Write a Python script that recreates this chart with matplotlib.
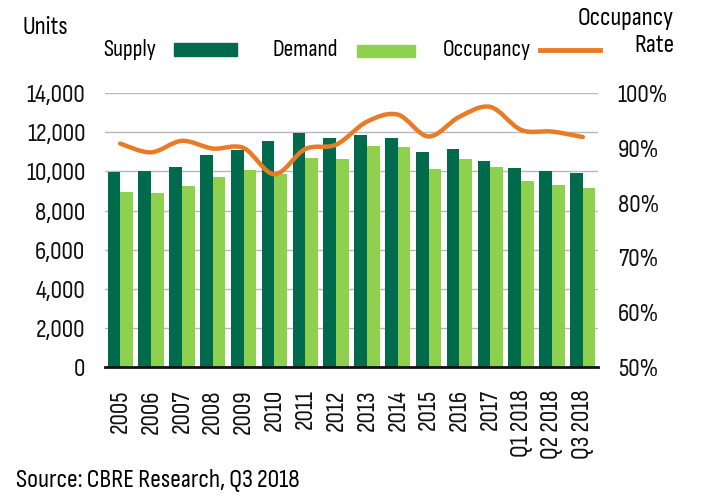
import matplotlib
matplotlib.use("Agg")
import matplotlib.pyplot as plt
from matplotlib.path import Path
from matplotlib.patches import PathPatch, Rectangle
from matplotlib.lines import Line2D
from matplotlib.ticker import FuncFormatter
import numpy as np

plt.rcParams['font.family'] = ['Sofia Sans Condensed', 'DejaVu Sans']

periods = ['2005', '2006', '2007', '2008', '2009', '2010', '2011', '2012',
           '2013', '2014', '2015', '2016', '2017', 'Q1 2018', 'Q2 2018', 'Q3 2018']
supply = [9950, 10040, 10230, 10860, 11080, 11560, 11950, 11700,
          11870, 11730, 11000, 11170, 10520, 10200, 10040, 9940]
demand = [8970, 8920, 9280, 9720, 10090, 9860, 10710, 10640,
          11290, 11250, 10110, 10660, 10210, 9500, 9290, 9140]
occupancy = [90.8, 89.2, 91.3, 89.9, 90.0, 85.2, 89.8, 90.6,
             94.8, 96.1, 92.1, 95.7, 97.5, 93.3, 93.0, 92.0]

c_supply = '#006a4d'
c_demand = '#8fd14f'
c_occ = '#ea7b26'
fs = 18.5
fs_leg = 17

W, H = 703, 504
fig = plt.figure(figsize=(W / 100, H / 100), dpi=100)
ax = fig.add_axes([0.149, 0.272, 0.702, 0.543])
ax2 = ax.twinx()

x = np.arange(len(periods))
w = 0.41
ax.bar(x - w / 2, supply, w, color=c_supply, zorder=2)
ax.bar(x + w / 2, demand, w, color=c_demand, zorder=2)

ax.set_xlim(-0.5, len(periods) - 0.5)
ax.set_ylim(0, 14000)
ax.set_yticks(range(0, 14001, 2000))
ax.yaxis.set_major_formatter(FuncFormatter(lambda v, p: f'{int(v):,}'))
ax.grid(axis='y', color='#b8b8b8', linewidth=1, zorder=0)
ax.set_axisbelow(True)
ax.set_xticks(x)
ax.set_xticklabels(periods, rotation=90, va='top', ha='center')
ax.tick_params(axis='both', length=0, labelsize=fs, colors='#111111')
ax.tick_params(axis='y', pad=14)
ax.tick_params(axis='x', pad=16)
for s in ['top', 'right', 'left']:
    ax.spines[s].set_visible(False)
ax.spines['bottom'].set_linewidth(2)
ax.spines['bottom'].set_color('#111111')

# smooth occupancy curve (Catmull-Rom as cubic Bezier through the data points)
ax2.set_ylim(50, 100)
ax2.set_yticks(range(50, 101, 10))
ax2.yaxis.set_major_formatter(FuncFormatter(lambda v, p: f'{int(v)}%'))
ax2.tick_params(axis='y', length=0, labelsize=fs, pad=14, colors='#111111')
for s in ax2.spines.values():
    s.set_visible(False)
pts = np.column_stack([x, occupancy])
verts = [pts[0]]
codes = [Path.MOVETO]
for i in range(len(pts) - 1):
    p0 = pts[i - 1] if i > 0 else pts[i]
    p1, p2 = pts[i], pts[i + 1]
    p3 = pts[i + 2] if i + 2 < len(pts) else pts[i + 1]
    verts += [p1 + (p2 - p0) / 6, p2 - (p3 - p1) / 6, p2]
    codes += [Path.CURVE4] * 3
ax2.add_patch(PathPatch(Path(verts, codes), facecolor='none', edgecolor=c_occ,
                        linewidth=3.2, capstyle='round', zorder=3))
ax2.set_zorder(ax.get_zorder() + 1)
ax2.patch.set_visible(False)


# legend drawn by hand: label first, then swatch
def px(xp, yp):
    return xp / W, 1 - yp / H


ly = 49
fig.text(*px(103, ly), 'Supply', fontsize=fs_leg, va='center', ha='left')
fig.patches.append(Rectangle(px(174, 56), 63 / W, 13 / H, color=c_supply,
                             transform=fig.transFigure, figure=fig))
fig.text(*px(273, ly), 'Demand', fontsize=fs_leg, va='center', ha='left')
fig.patches.append(Rectangle(px(357, 57), 58 / W, 12 / H, color=c_demand,
                             transform=fig.transFigure, figure=fig))
fig.text(*px(443, ly), 'Occupancy', fontsize=fs_leg, va='center', ha='left')
x0, y0 = px(540, 50)
x1, _ = px(600, 50)
fig.lines.append(Line2D([x0, x1], [y0, y0], color=c_occ, linewidth=3.5,
                        transform=fig.transFigure, figure=fig))

fig.text(*px(22, 27), 'Units', fontsize=fs, va='center', ha='left')
fig.text(*px(674, 19), 'Occupancy', fontsize=fs, va='center', ha='right')
fig.text(*px(674, 46), 'Rate', fontsize=fs, va='center', ha='right')
fig.text(*px(16, 481), 'Source: CBRE Research, Q3 2018', fontsize=18.8,
         va='center', ha='left')

fig.savefig('out.png', dpi=100)
